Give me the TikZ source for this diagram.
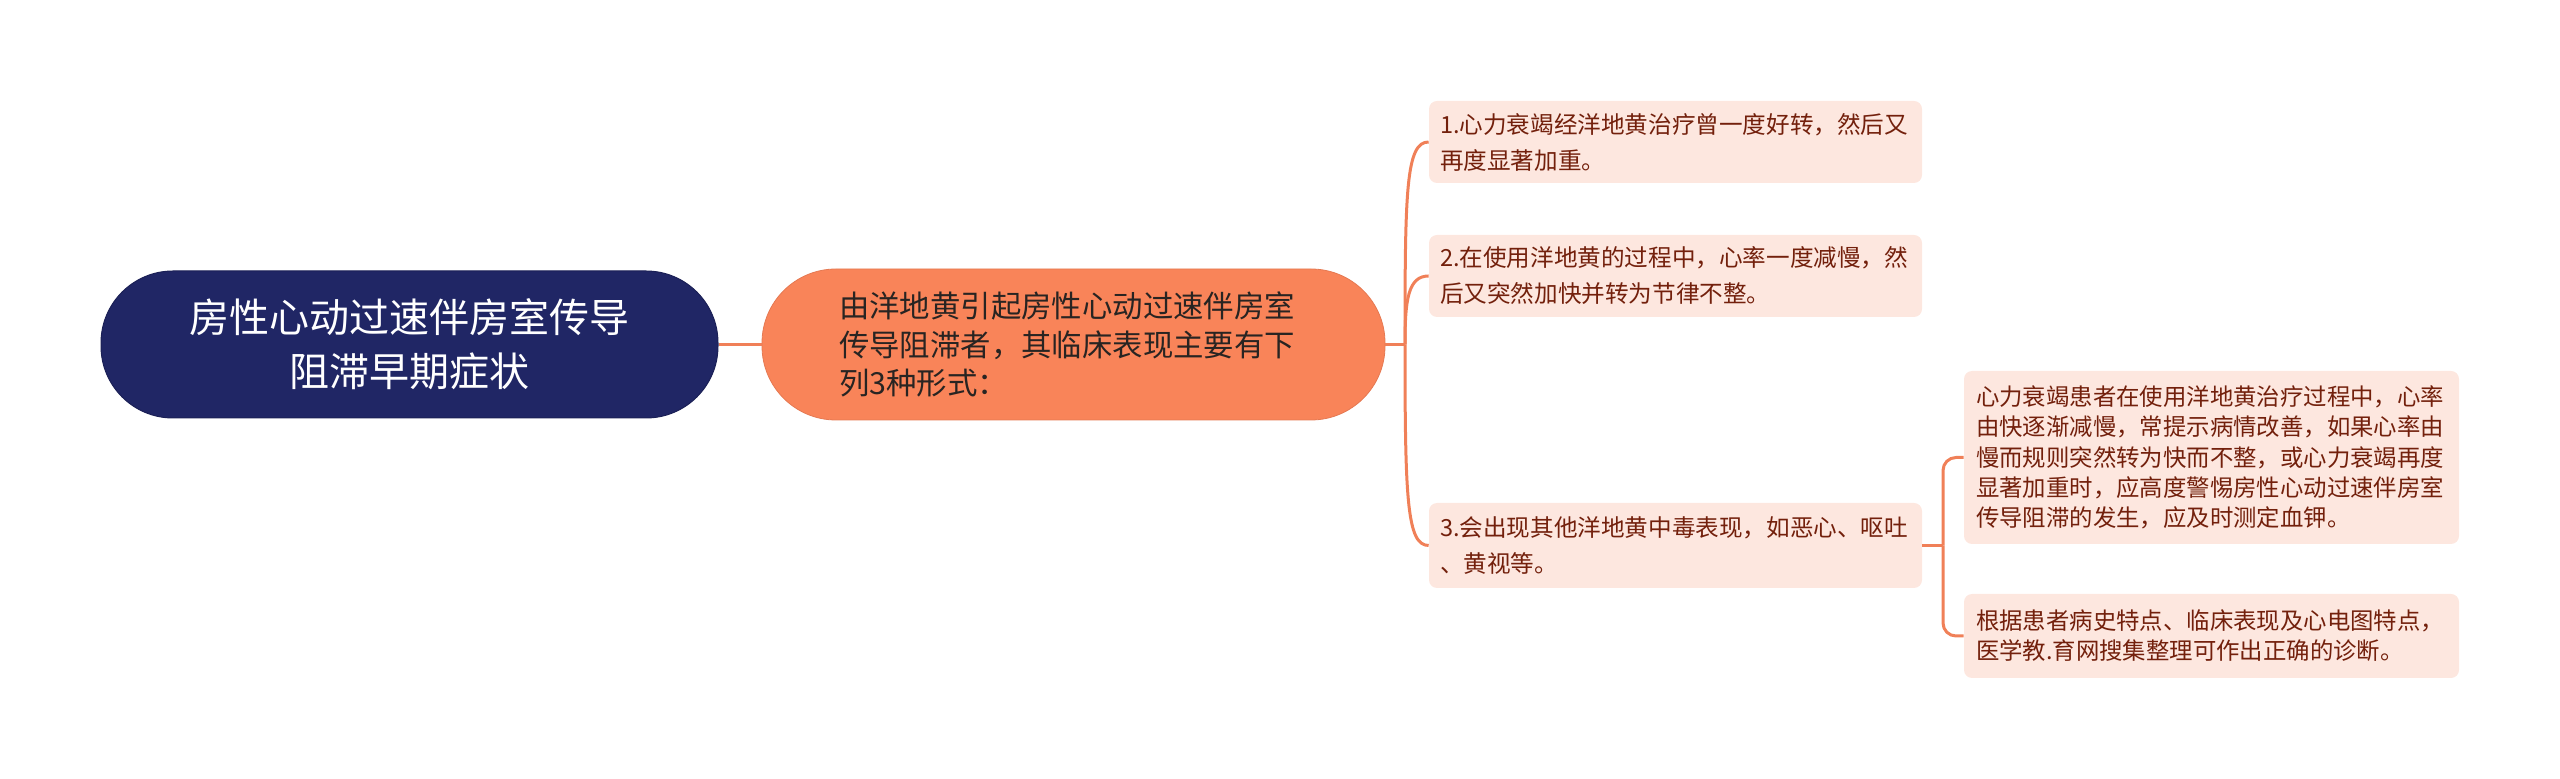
\documentclass[tikz,border=0pt]{standalone}
\usepackage{fontspec}
\setmainfont{Noto Sans CJK SC}
\definecolor{navy}{RGB}{32,38,101}
\definecolor{mainor}{RGB}{249,132,89}
\definecolor{leafpink}{RGB}{253,231,223}
\definecolor{leaftext}{RGB}{115,32,12}
\definecolor{linecol}{RGB}{240,128,88}
\definecolor{maintext}{RGB}{40,36,34}
\begin{document}
\begin{tikzpicture}[x=0.5pt,y=-0.5pt,
  rootbox/.style={fill=navy, draw=navy!85!black, line width=0.5pt, rounded corners=36pt,
    minimum width=308.5pt, minimum height=73.5pt, text=white, align=center,
    font=\fontsize{20}{27}\selectfont},
  mainbox/.style={fill=mainor, draw=mainor!92!black, line width=0.4pt, rounded corners=37pt,
    minimum width=311.5pt, minimum height=75.5pt, inner xsep=38.5pt, text width=234.5pt,
    text=maintext, align=left, font=\fontsize{15.2}{19.3}\selectfont},
  leaf/.style={fill=leafpink, rounded corners=4pt, minimum width=246.5pt,
    inner xsep=5.5pt, text width=235.5pt, align=left, text=leaftext,
    font=\fontsize{11.8}{18}\selectfont},
  gleaf/.style={fill=leafpink, rounded corners=4pt, minimum width=247.5pt,
    inner xsep=6pt, text width=235.5pt, align=left, text=leaftext,
    font=\fontsize{11.7}{15.1}\selectfont},
  conn/.style={draw=linecol, line width=1.5pt}
]
\useasboundingbox (0,0) rectangle (2560,779);

\node[rootbox] (root) at (409.5,344.5) {房性心动过速伴房室传导\\阻滞早期症状};
\node[mainbox] (main) at (1073.5,344.5) {由洋地黄引起房性心动过速伴房室\\传导阻滞者，其临床表现主要有下\\列3种形式：};

\node[leaf, minimum height=41pt] (c1) at (1675.5,142) {1.心力衰竭经洋地黄治疗曾一度好转，然后又\\再度显著加重。};
\node[leaf, minimum height=41pt] (c2) at (1675.5,276) {2.在使用洋地黄的过程中，心率一度减慢，然\\后又突然加快并转为节律不整。};
\node[leaf, minimum height=42.5pt] (c3) at (1675.5,545.5) {3.会出现其他洋地黄中毒表现，如恶心、呕吐\\、黄视等。};

\node[gleaf, minimum height=86.5pt] (g1) at (2211.5,457.5) {心力衰竭患者在使用洋地黄治疗过程中，心率\\由快逐渐减慢，常提示病情改善，如果心率由\\慢而规则突然转为快而不整，或心力衰竭再度\\显著加重时，应高度警惕房性心动过速伴房室\\传导阻滞的发生，应及时测定血钾。};
\node[gleaf, minimum height=42pt] (g2) at (2211.5,636) {根据患者病史特点、临床表现及心电图特点，\\医学教.育网搜集整理可作出正确的诊断。};

\coordinate (s1) at (1405,344.5);
\coordinate (s2) at (1943,545.5);

\draw[conn] (root.east) -- (main.west);
\draw[conn] (main.east) -- (s1);
\draw[conn] (s1) .. controls (1405,190) and (1406,142) .. (c1.west);
\draw[conn] (s1) .. controls (1405,300) and (1408,276) .. (c2.west);
\draw[conn] (s1) .. controls (1405,500) and (1407,545.5) .. (c3.west);

\draw[conn] (c3.east) -- (s2);
\draw[conn, rounded corners=6.5pt] (s2) |- (g1.west);
\draw[conn, rounded corners=6.5pt] (s2) |- (g2.west);
\end{tikzpicture}
\end{document}
